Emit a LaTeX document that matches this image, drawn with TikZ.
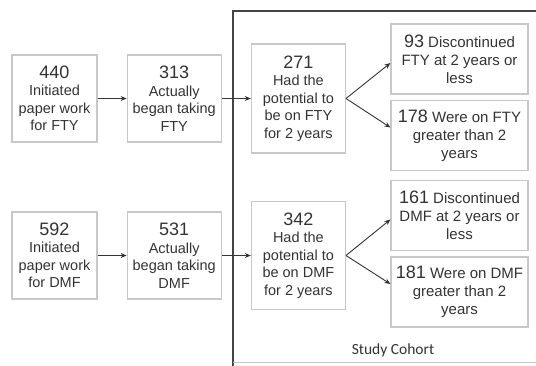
\documentclass[tikz,border=0pt]{standalone}
\usepackage{fontspec}
\setmainfont{Liberation Sans}
\newfontfamily\cohortfont{Carlito}
\usepackage{tikz}
\usetikzlibrary{arrows.meta, positioning}
\definecolor{boxline}{HTML}{C8C8C8}
\definecolor{textgray}{HTML}{333333}
\definecolor{framegray}{HTML}{444444}
\newcommand{\bignum}[1]{{\fontsize{18}{20}\selectfont #1}}
\tikzset{
  stage/.style={
    rectangle, draw=boxline, line width=1.2pt,
    minimum width=94pt, minimum height=87pt, inner sep=1pt,
    align=center, text=textgray,
    font=\fontsize{14.5}{17.5}\selectfont,
  },
  outcome/.style={
    stage, minimum width=137pt, minimum height=70pt,
    font=\fontsize{15}{18}\selectfont,
  },
  arrow/.style={-{Stealth[length=6pt,width=5pt]}, line width=0.9pt, color=textgray},
}

\begin{document}
\begin{tikzpicture}[x=1pt,y=-1pt]
  \useasboundingbox (0,0) rectangle (536,365);
  % study cohort frame
  \draw[framegray, line width=1.3pt] (537,11) -| (233,366);
  \draw[boxline, line width=1pt] (233,362) -- (537,362);
  \node[font=\cohortfont\fontsize{15.5}{18}\selectfont, text=textgray] (cohort) at (393,350) {Study Cohort};
  % FTY
  \node[stage, minimum width=85pt] (fty1) at (54.5,98.5) {\bignum{440}\\Initiated\\paper work\\for FTY};
  \node[stage, right=29pt of fty1] (fty2) {\bignum{313}\\Actually\\began taking\\FTY};
  \node[stage, minimum height=109pt, right=29pt of fty2] (fty3) {\bignum{271}\\Had the\\potential to\\be on FTY\\for 2 years};
  \node[outcome] (fty4) at (459.5,59) {\bignum{93} Discontinued\\FTY at 2 years or\\less};
  \node[outcome] (fty5) at (459.5,135.5) {\bignum{178} Were on FTY\\greater than 2\\years};
  % DMF
  \node[stage, minimum width=85pt] (dmf1) at (54.5,255.5) {\bignum{592}\\Initiated\\paper work\\for DMF};
  \node[stage, right=29pt of dmf1] (dmf2) {\bignum{531}\\Actually\\began taking\\DMF};
  \node[stage, minimum height=108pt, right=29pt of dmf2] (dmf3) {\bignum{342}\\Had the\\potential to\\be on DMF\\for 2 years};
  \node[outcome] (dmf4) at (459.5,215.5) {\bignum{161} Discontinued\\DMF at 2 years or\\less};
  \node[outcome] (dmf5) at (459.5,292) {\bignum{181} Were on DMF\\greater than 2\\years};
  \draw[arrow] (fty1)--(fty2);
  \draw[arrow] (fty2)--(fty3);
  \draw[arrow] (fty3.east)--([yshift=-4pt]fty4.west);
  \draw[arrow] (fty3.east)--([yshift=8pt]fty5.west);
  \draw[arrow] (dmf1)--(dmf2);
  \draw[arrow] (dmf2)--(dmf3);
  \draw[arrow] (dmf3.east)--([yshift=-4pt]dmf4.west);
  \draw[arrow] (dmf3.east)--([yshift=8pt]dmf5.west);
\end{tikzpicture}
\end{document}
